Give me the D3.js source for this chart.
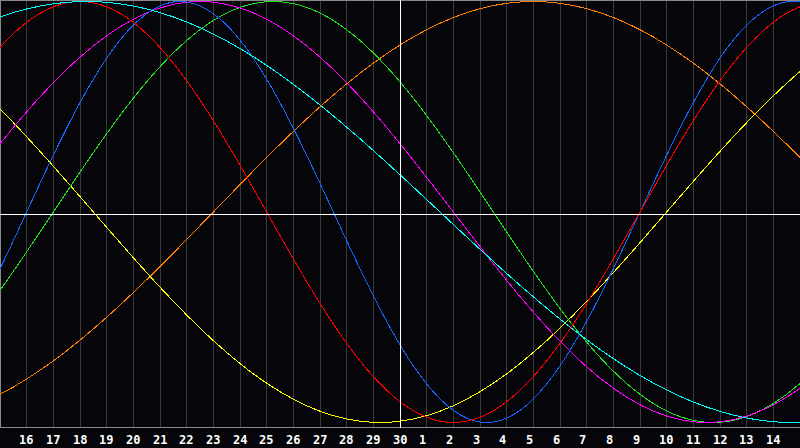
<!DOCTYPE html>
<html>
<head>
<meta charset="utf-8">
<script src="https://cdn.jsdelivr.net/npm/d3@7"></script>
<style>
  body { margin: 0; background: #060509; }
  svg { display: block; }
  .grid { stroke: #3a3a3a; stroke-width: 1; shape-rendering: crispEdges; }
  .frame { stroke: #8a8a8a; stroke-width: 1; shape-rendering: crispEdges; }
  .today, .zero { stroke: #ffffff; stroke-width: 1; shape-rendering: crispEdges; }
  .cycle { fill: none; stroke-width: 1; shape-rendering: crispEdges; }
  .dayLabel { fill: #ffffff; font-family: "DejaVu Sans Mono", monospace; font-weight: bold; font-size: 12px; }
</style>
</head>
<body>
<script>
(function(){

    //day numbers, one per grid step (first and last lie just outside the frame)
    var dayNumbers = [14, 15, 16, 17, 18, 19, 20, 21, 22, 23, 24, 25, 26, 27, 28, 29, 30,
                      1, 2, 3, 4, 5, 6, 7, 8, 9, 10, 11, 12, 13, 14, 15, 16];

    //labels drawn under the chart
    var dayLabels = ["16", "17", "18", "19", "20", "21", "22", "23", "24", "25", "26", "27", "28", "29", "30",
                     "1", "2", "3", "4", "5", "6", "7", "8", "9", "10", "11", "12", "13", "14"];

    //cycle values, one per day
    var red = [0.6235, 0.7818, 0.9010, 0.9749, 1, 0.9749, 0.9010, 0.7818, 0.6235, 0.4339, 0.2225, 0,
               -0.2225, -0.4339, -0.6235, -0.7818, -0.9010, -0.9749, -1, -0.9749, -0.9010, -0.7818,
               -0.6235, -0.4339, -0.2225, 0, 0.2225, 0.4339, 0.6235, 0.7818, 0.9010, 0.9749, 1];

    var blue = [-0.5196, -0.2698, 0, 0.2698, 0.5196, 0.7308, 0.8879, 0.9791, 0.9977, 0.9423, 0.8170,
                0.6311, 0.3984, 0.1362, -0.1362, -0.3984, -0.6311, -0.8170, -0.9423, -0.9977, -0.9791,
                -0.8879, -0.7308, -0.5196, -0.2698, 0, 0.2698, 0.5196, 0.7308, 0.8879, 0.9791, 0.9977, 0.9423];

    var green = [-0.5406, -0.3717, -0.1893, 0, 0.1893, 0.3717, 0.5406, 0.6901, 0.8146, 0.9097, 0.9718,
                 0.9989, 0.9898, 0.9450, 0.8660, 0.7558, 0.6182, 0.4582, 0.2817, 0.0951, -0.0951, -0.2817,
                 -0.4582, -0.6182, -0.7558, -0.8660, -0.9450, -0.9898, -0.9989, -0.9718, -0.9097, -0.8146, -0.6901];

    var magenta = [0.1646, 0.3247, 0.4759, 0.6142, 0.7357, 0.8372, 0.9158, 0.9694, 0.9966, 0.9966, 0.9694,
                   0.9158, 0.8372, 0.7357, 0.6142, 0.4759, 0.3247, 0.1646, 0, -0.1646, -0.3247, -0.4759,
                   -0.6142, -0.7357, -0.8372, -0.9158, -0.9694, -0.9966, -0.9966, -0.9694, -0.9158, -0.8372, -0.7357];

    var yellow = [0.6112, 0.4894, 0.3572, 0.2174, 0.0730, -0.0730, -0.2174, -0.3572, -0.4894, -0.6112,
                  -0.7199, -0.8133, -0.8894, -0.9465, -0.9834, -0.9993, -0.9940, -0.9675, -0.9203, -0.8536,
                  -0.7687, -0.6673, -0.5518, -0.4245, -0.2881, -0.1456, 0, 0.1456, 0.2881, 0.4245, 0.5518, 0.6673, 0.7687];

    var orange = [-0.9239, -0.8660, -0.7934, -0.7071, -0.6088, -0.5, -0.3827, -0.2588, -0.1305, 0, 0.1305,
                  0.2588, 0.3827, 0.5, 0.6088, 0.7071, 0.7934, 0.8660, 0.9239, 0.9659, 0.9914, 1, 0.9914,
                  0.9659, 0.9239, 0.8660, 0.7934, 0.7071, 0.6088, 0.5, 0.3827, 0.2588, 0.1305];

    var cyan = [0.8757, 0.9267, 0.9646, 0.9890, 0.9996, 0.9961, 0.9786, 0.9473, 0.9028, 0.8456, 0.7765,
                0.6966, 0.6068, 0.5085, 0.4031, 0.2921, 0.1769, 0.0592, -0.0592, -0.1769, -0.2921, -0.4031,
                -0.5085, -0.6068, -0.6966, -0.7765, -0.8456, -0.9028, -0.9473, -0.9786, -0.9961, -0.9996, -0.9890];

    //drawing order and colours of the cycles
    var series = [
        {name: "orange", values: orange, color: "#ff8000"},
        {name: "yellow", values: yellow, color: "#ffff00"},
        {name: "green", values: green, color: "#20e020"},
        {name: "magenta", values: magenta, color: "#ff00ff"},
        {name: "blue", values: blue, color: "#1464ff"},
        {name: "red", values: red, color: "#ff0000"},
        {name: "cyan", values: cyan, color: "#00ffff"}
    ];

    //frame dimensions
    var width = 800,
        height = 448,
        chartBottom = 428;

    var svg = d3.select("body")
        .append("svg")
        .attr("width", width)
        .attr("height", height);

    //x: grid step index (0 = left edge, 30 = right edge)
    var x = d3.scaleLinear()
        .domain([0, 30])
        .range([0, width]);

    var y = d3.scaleLinear()
        .domain([-1, 1])
        .range([422.5, 1.5]);

    function px(v){
        return Math.floor(v) + 0.5;
    };

    //vertical day grid
    var gridSteps = d3.range(1, 30);
    svg.selectAll(".grid")
        .data(gridSteps)
        .enter()
        .append("line")
        .attr("class", "grid")
        .attr("x1", function(d){ return px(x(d)); })
        .attr("x2", function(d){ return px(x(d)); })
        .attr("y1", 0)
        .attr("y2", chartBottom);

    //frame: top, left, bottom
    svg.append("line").attr("class", "frame")
        .attr("x1", 0).attr("x2", width).attr("y1", 0.5).attr("y2", 0.5);
    svg.append("line").attr("class", "frame")
        .attr("x1", 0.5).attr("x2", 0.5).attr("y1", 0).attr("y2", chartBottom);
    svg.append("line").attr("class", "frame")
        .attr("x1", 0).attr("x2", width).attr("y1", chartBottom - 0.5).attr("y2", chartBottom - 0.5);

    //cycle curves
    var line = d3.line()
        .x(function(d, i){ return x(i - 1); })
        .y(function(d){ return y(d); })
        .curve(d3.curveNatural);

    svg.selectAll(".cycle")
        .data(series)
        .enter()
        .append("path")
        .attr("class", function(d){ return "cycle " + d.name; })
        .attr("d", function(d){ return line(d.values); })
        .style("stroke", function(d){ return d.color; });

    //zero line and today marker
    svg.append("line").attr("class", "zero")
        .attr("x1", 0).attr("x2", width).attr("y1", 214.5).attr("y2", 214.5);
    svg.append("line").attr("class", "today")
        .attr("x1", px(x(15))).attr("x2", px(x(15))).attr("y1", 0).attr("y2", chartBottom);

    //day labels, left aligned just before each grid line
    svg.selectAll(".dayLabel")
        .data(dayLabels)
        .enter()
        .append("text")
        .attr("class", "dayLabel")
        .attr("x", function(d, i){ return Math.floor(x(i + 1)) - 7; })
        .attr("y", 443.5)
        .text(function(d){ return d; });

})();
</script>
</body>
</html>
